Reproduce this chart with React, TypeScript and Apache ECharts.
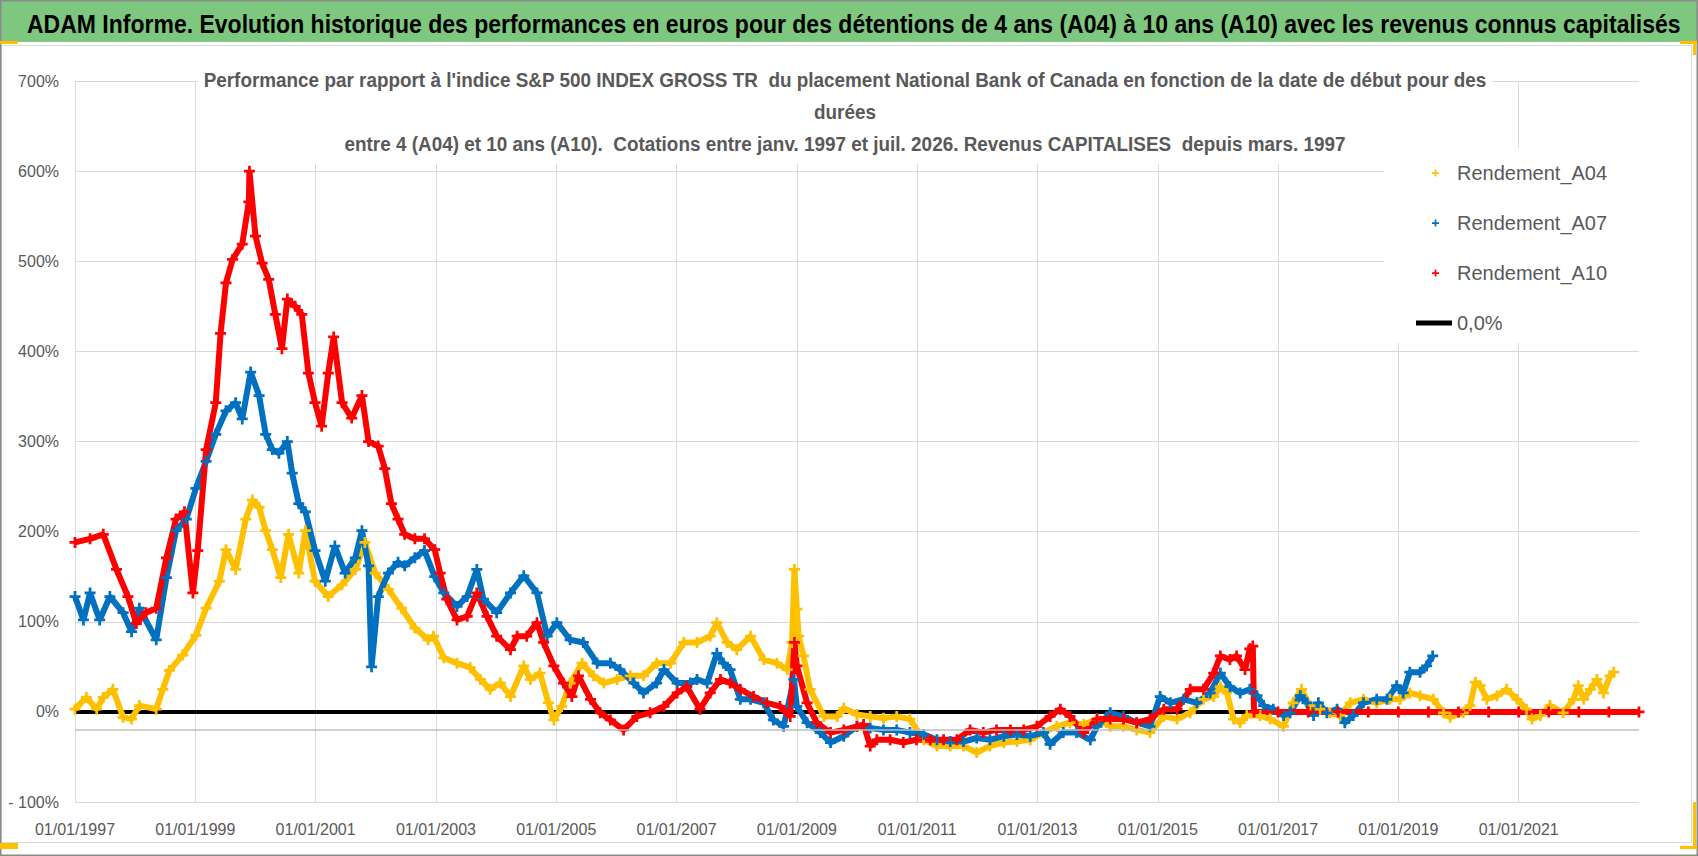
import React, { useEffect, useRef } from "react";
import * as echarts from "echarts";

const FONT = "'Liberation Sans', Arial, sans-serif";

const mainTitle =
  "ADAM Informe. Evolution historique des performances en euros pour des détentions de 4 ans (A04) à 10 ans (A10) avec les revenus connus capitalisés";
const subTitle =
  "Performance par rapport à l'indice S&P 500 INDEX GROSS TR  du placement National Bank of Canada en fonction de la date de début pour des\ndurées\nentre 4 (A04) et 10 ans (A10).  Cotations entre janv. 1997 et juil. 2026. Revenus CAPITALISES  depuis mars. 1997";

// x = date en années décimales, y = rendement en %
const rendementA04: [number, number][] = [
  [1997.0, 3], [1997.19, 16], [1997.36, 3], [1997.47, 16], [1997.63, 25], [1997.8, -6],
  [1997.94, -8], [1998.07, 7], [1998.35, 3], [1998.46, 25], [1998.57, 46], [1998.79, 63],
  [1999.01, 85], [1999.18, 115], [1999.4, 145], [1999.51, 180], [1999.67, 158], [1999.84, 214],
  [1999.95, 235], [2000.06, 227], [2000.17, 201], [2000.28, 180], [2000.42, 149], [2000.55, 197],
  [2000.72, 154], [2000.83, 201], [2000.99, 145], [2001.21, 128], [2001.44, 141], [2001.66, 158],
  [2001.82, 188], [2001.99, 154], [2002.21, 136], [2002.43, 115], [2002.65, 93], [2002.87, 80],
  [2002.96, 84], [2003.13, 60], [2003.35, 54], [2003.57, 49], [2003.74, 36], [2003.9, 25],
  [2004.07, 32], [2004.24, 17], [2004.46, 51], [2004.57, 36], [2004.73, 43], [2004.87, 10],
  [2004.96, -9], [2005.09, 6], [2005.23, 32], [2005.43, 54], [2005.62, 40], [2005.79, 32],
  [2006.01, 36], [2006.23, 40], [2006.45, 40], [2006.67, 54], [2006.9, 54], [2007.12, 77],
  [2007.34, 77], [2007.56, 84], [2007.67, 99], [2007.84, 77], [2008.0, 69], [2008.23, 84],
  [2008.45, 58], [2008.67, 54], [2008.84, 47], [2008.92, 77], [2008.96, 158], [2009.0, 114],
  [2009.03, 84], [2009.11, 62], [2009.22, 25], [2009.45, -5], [2009.67, -5], [2009.78, 4],
  [2010.0, -3], [2010.22, -5], [2010.44, -7], [2010.66, -5], [2010.88, -8], [2011.11, -31],
  [2011.33, -38], [2011.55, -38], [2011.77, -38], [2011.99, -45], [2012.21, -38], [2012.44, -34],
  [2012.66, -33], [2012.88, -31], [2013.1, -23], [2013.32, -16], [2013.54, -12], [2013.77, -14],
  [2013.99, -8], [2014.21, -16], [2014.43, -16], [2014.65, -20], [2014.87, -23], [2015.1, -5],
  [2015.32, -8], [2015.54, -1], [2015.76, 14], [2015.93, 17], [2016.04, 28], [2016.15, 21],
  [2016.26, -8], [2016.37, -12], [2016.48, -4], [2016.7, -4], [2016.87, -8], [2017.09, -16],
  [2017.25, 10], [2017.39, 25], [2017.53, 7], [2017.7, 3], [2017.86, -1], [2018.03, -4],
  [2018.2, 10], [2018.42, 14], [2018.64, 10], [2018.86, 14], [2019.03, 14], [2019.19, 21],
  [2019.36, 18], [2019.58, 14], [2019.75, -1], [2019.86, -6], [2020.08, -1], [2020.19, 7],
  [2020.28, 33], [2020.36, 29], [2020.47, 14], [2020.64, 18], [2020.8, 25], [2020.97, 14],
  [2021.13, 3], [2021.22, -8], [2021.36, -4], [2021.52, 7], [2021.74, -1], [2021.91, 14],
  [2021.99, 29], [2022.08, 14], [2022.19, 25], [2022.3, 36], [2022.41, 21], [2022.52, 40],
  [2022.58, 44],
];

const rendementA07: [number, number][] = [
  [1997.0, 128], [1997.14, 102], [1997.25, 132], [1997.41, 102], [1997.58, 128], [1997.8, 110],
  [1997.94, 89], [1998.07, 115], [1998.35, 80], [1998.52, 149], [1998.68, 201], [1998.85, 214],
  [1999.01, 248], [1999.18, 278], [1999.34, 308], [1999.51, 334], [1999.67, 343], [1999.78, 325],
  [1999.92, 377], [2000.06, 351], [2000.17, 308], [2000.28, 291], [2000.39, 287], [2000.53, 300],
  [2000.61, 265], [2000.72, 231], [2000.83, 222], [2000.99, 179], [2001.16, 145], [2001.32, 184],
  [2001.49, 154], [2001.66, 171], [2001.77, 201], [2001.88, 162], [2001.93, 50], [2002.04, 128],
  [2002.21, 154], [2002.37, 166], [2002.48, 162], [2002.65, 171], [2002.81, 179], [2002.98, 150],
  [2003.13, 132], [2003.35, 117], [2003.52, 128], [2003.68, 158], [2003.79, 125], [2004.01, 110],
  [2004.24, 132], [2004.46, 151], [2004.68, 132], [2004.85, 84], [2005.01, 99], [2005.23, 80],
  [2005.45, 77], [2005.68, 54], [2005.9, 54], [2006.06, 47], [2006.29, 32], [2006.45, 21],
  [2006.67, 32], [2006.79, 47], [2007.01, 32], [2007.23, 32], [2007.34, 36], [2007.51, 32],
  [2007.67, 65], [2007.78, 54], [2007.89, 47], [2008.06, 14], [2008.23, 14], [2008.45, 10],
  [2008.61, -9], [2008.78, -16], [2008.95, 36], [2009.0, 6], [2009.17, -12], [2009.39, -23],
  [2009.56, -34], [2009.78, -27], [2010.0, -16], [2010.22, -18], [2010.44, -20], [2010.66, -20],
  [2010.88, -23], [2011.11, -25], [2011.33, -31], [2011.55, -33], [2011.77, -33], [2011.99, -29],
  [2012.21, -31], [2012.44, -27], [2012.66, -25], [2012.88, -27], [2013.1, -23], [2013.21, -36],
  [2013.43, -23], [2013.65, -23], [2013.88, -31], [2013.99, -16], [2014.21, -1], [2014.43, -5],
  [2014.65, -12], [2014.87, -16], [2015.04, 17], [2015.21, 10], [2015.43, 14], [2015.65, 10],
  [2015.87, 21], [2016.04, 43], [2016.2, 28], [2016.37, 21], [2016.53, 25], [2016.65, 18],
  [2016.76, 7], [2016.92, 3], [2017.09, -4], [2017.2, -1], [2017.37, 18], [2017.48, 10],
  [2017.59, -4], [2017.67, 10], [2017.81, -1], [2017.98, 3], [2018.11, -12], [2018.25, -4],
  [2018.42, 10], [2018.64, 14], [2018.81, 14], [2018.97, 29], [2019.08, 21], [2019.19, 44],
  [2019.36, 44], [2019.47, 51], [2019.57, 62],
];

const rendementA10: [number, number][] = [
  [1997.0, 188], [1997.25, 192], [1997.47, 197], [1997.69, 158], [1997.88, 128], [1998.02, 98],
  [1998.18, 110], [1998.35, 115], [1998.52, 171], [1998.68, 214], [1998.82, 222], [1998.96, 132],
  [1999.04, 179], [1999.18, 291], [1999.34, 343], [1999.42, 420], [1999.51, 476], [1999.62, 502],
  [1999.78, 519], [1999.89, 566], [1999.9, 600], [2000.0, 528], [2000.11, 498], [2000.22, 480],
  [2000.33, 441], [2000.44, 403], [2000.53, 458], [2000.66, 450], [2000.77, 441], [2000.88, 376],
  [2000.99, 343], [2001.1, 317], [2001.21, 376], [2001.3, 416], [2001.44, 343], [2001.6, 326],
  [2001.77, 351], [2001.88, 300], [2002.04, 295], [2002.15, 270], [2002.26, 231], [2002.37, 214],
  [2002.48, 197], [2002.65, 192], [2002.81, 192], [2002.98, 180], [2003.07, 154], [2003.18, 125],
  [2003.35, 102], [2003.52, 106], [2003.68, 132], [2003.85, 106], [2004.01, 84], [2004.24, 69],
  [2004.35, 84], [2004.51, 84], [2004.68, 99], [2004.79, 77], [2004.96, 51], [2005.12, 32],
  [2005.26, 17], [2005.37, 40], [2005.57, 14], [2005.73, -1], [2005.9, -9], [2006.12, -20],
  [2006.34, -5], [2006.56, -1], [2006.79, 6], [2007.01, 21], [2007.17, 28], [2007.39, 3],
  [2007.56, 21], [2007.73, 36], [2007.89, 32], [2008.06, 25], [2008.28, 17], [2008.5, 10],
  [2008.72, 6], [2008.89, -5], [2008.96, 77], [2009.0, 51], [2009.17, 10], [2009.33, -12],
  [2009.56, -23], [2009.78, -20], [2010.0, -16], [2010.11, -14], [2010.22, -38], [2010.33, -31],
  [2010.55, -31], [2010.77, -34], [2010.99, -31], [2011.22, -31], [2011.44, -31], [2011.66, -31],
  [2011.88, -20], [2012.1, -23], [2012.32, -20], [2012.55, -20], [2012.77, -20], [2012.99, -16],
  [2013.21, -5], [2013.38, 3], [2013.54, -5], [2013.77, -23], [2013.99, -8], [2014.21, -8],
  [2014.43, -8], [2014.65, -12], [2014.87, -8], [2015.1, 3], [2015.32, 3], [2015.54, 25],
  [2015.76, 25], [2015.93, 43], [2016.04, 62], [2016.2, 58], [2016.31, 62], [2016.45, 47],
  [2016.53, 70], [2016.58, 73], [2016.6, 0], [2017.0, 0], [2017.5, 0], [2018.0, 0],
  [2018.5, 0], [2019.0, 0], [2019.5, 0], [2020.0, 0], [2020.5, 0], [2021.0, 0],
  [2021.5, 0], [2022.0, 0], [2022.5, 0], [2023.0, 0],
];

const zeroLine: [number, number][] = [
  [1997.0, 0],
  [2023.0, 0],
];

const yearTicks = { min: 1997, max: 2023, interval: 2 };
const pctTicks = { min: -100, max: 700, interval: 100 };

const PLUS = "path://M3,0H5V3H8V5H5V8H3V5H0V3H3Z";

const App: React.FC = () => {
  const chartRef = useRef<HTMLDivElement>(null);

  useEffect(() => {
    document.body.style.margin = "0";
    const chart = echarts.init(chartRef.current!, undefined, { renderer: "svg" });

    const scatterLine = (name: string, color: string, data: [number, number][]) => ({
      name,
      type: "line",
      data,
      symbol: PLUS,
      symbolSize: 11,
      showAllSymbol: true,
      itemStyle: { color },
      lineStyle: { color, width: 6 },
      z: 3,
    });

    chart.setOption({
      animation: false,
      backgroundColor: "#fff",
      textStyle: { fontFamily: FONT },
      graphic: [
        { type: "rect", shape: { x: 1, y: 1, width: 1696, height: 41 }, style: { fill: "#7ec77f" }, z: 0 },
        { type: "rect", shape: { x: 1.5, y: 45.5, width: 1690, height: 797 }, style: { fill: "none", stroke: "#d9d9d9", lineWidth: 1 }, z: 0 },
        { type: "rect", shape: { x: 0.75, y: 0.75, width: 1696.5, height: 854.5 }, style: { fill: "none", stroke: "#8a8a8a", lineWidth: 1.5 }, z: 0 },
        { type: "rect", shape: { x: 0, y: 41, width: 18, height: 3 }, style: { fill: "#ffc000" }, z: 1 },
        { type: "rect", shape: { x: 0, y: 843, width: 18, height: 6 }, style: { fill: "#ffc000" }, z: 1 },
        { type: "rect", shape: { x: 1680, y: 41, width: 17, height: 3 }, style: { fill: "#ffc000" }, z: 1 },
        { type: "rect", shape: { x: 1693, y: 41, width: 3, height: 14 }, style: { fill: "#ffc000" }, z: 1 },
        { type: "rect", shape: { x: 1693, y: 802, width: 3, height: 47 }, style: { fill: "#ffc000" }, z: 1 },
        { type: "rect", shape: { x: 1680, y: 846, width: 17, height: 3 }, style: { fill: "#ffc000" }, z: 1 },
        { type: "rect", shape: { x: 1384, y: 148, width: 258, height: 195 }, style: { fill: "#fff" }, z: 3 },
        {
          type: "text",
          x: 27,
          y: 24,
          scaleX: 0.92,
          z: 10,
          style: {
            text: mainTitle,
            fill: "#000",
            fontFamily: FONT,
            fontSize: 25,
            fontWeight: "bold",
            align: "left",
            verticalAlign: "middle",
          },
        },
        {
          type: "text",
          x: 845,
          y: 60,
          scaleX: 0.9,
          z: 10,
          style: {
            text: subTitle,
            fill: "#595959",
            fontFamily: FONT,
            fontSize: 21,
            fontWeight: "bold",
            lineHeight: 32,
            align: "center",
            verticalAlign: "top",
            backgroundColor: "#fff",
            padding: [4, 6],
          },
        },
      ],
      legend: [
        {
          data: ["Rendement_A04", "Rendement_A07", "Rendement_A10"],
          orient: "vertical",
          left: 1432,
          top: 162,
          padding: 0,
          itemGap: 28,
          itemWidth: 7,
          itemHeight: 7,
          icon: PLUS,
          selectedMode: false,
          textStyle: { fontFamily: FONT, fontSize: 20, color: "#595959", lineHeight: 22, padding: [0, 0, 0, 13] },
        },
        {
          data: ["0,0%"],
          left: 1416,
          top: 312,
          padding: 0,
          itemWidth: 36,
          itemHeight: 5,
          icon: "rect",
          selectedMode: false,
          textStyle: { fontFamily: FONT, fontSize: 20, color: "#595959", lineHeight: 22 },
        },
      ],
      grid: { left: 75, right: 59, top: 81, bottom: 54, containLabel: false },
      xAxis: {
        type: "value",
        ...yearTicks,
        axisLine: { show: false },
        axisTick: { show: false },
        axisLabel: {
          formatter: (v: number) => `01/01/${v}`,
          showMaxLabel: false,
          fontFamily: FONT,
          fontSize: 16,
          color: "#595959",
          margin: 19,
        },
        splitLine: { show: true, showMaxLine: false, lineStyle: { color: "#d9d9d9", width: 1 } },
      },
      yAxis: {
        type: "value",
        ...pctTicks,
        axisLine: { show: false },
        axisTick: { show: false },
        axisLabel: {
          formatter: (v: number) => (v < 0 ? `- ${-v}%` : `${v}%`),
          fontFamily: FONT,
          fontSize: 16,
          color: "#595959",
          margin: 16,
        },
        splitLine: { show: true, lineStyle: { color: "#d9d9d9", width: 1 } },
      },
      series: [
        {
          name: "0,0%",
          type: "line",
          data: zeroLine,
          symbol: "none",
          itemStyle: { color: "#000" },
          lineStyle: { color: "#000", width: 4 },
          z: 2,
          markLine: {
            silent: true,
            symbol: ["none", "none"],
            label: { show: false },
            lineStyle: { color: "#bfbfbf", width: 1.5, type: "solid" },
            data: [{ yAxis: -20 }],
          },
        },
        scatterLine("Rendement_A04", "#ffc000", rendementA04),
        scatterLine("Rendement_A07", "#0070c0", rendementA07),
        scatterLine("Rendement_A10", "#ff0000", rendementA10),
      ],
    });

    const resize = () => chart.resize();
    window.addEventListener("resize", resize);
    return () => {
      chart.dispose();
      window.removeEventListener("resize", resize);
    };
  }, []);

  return <div ref={chartRef} style={{ width: "1698px", height: "856px" }} />;
};

export default App;
